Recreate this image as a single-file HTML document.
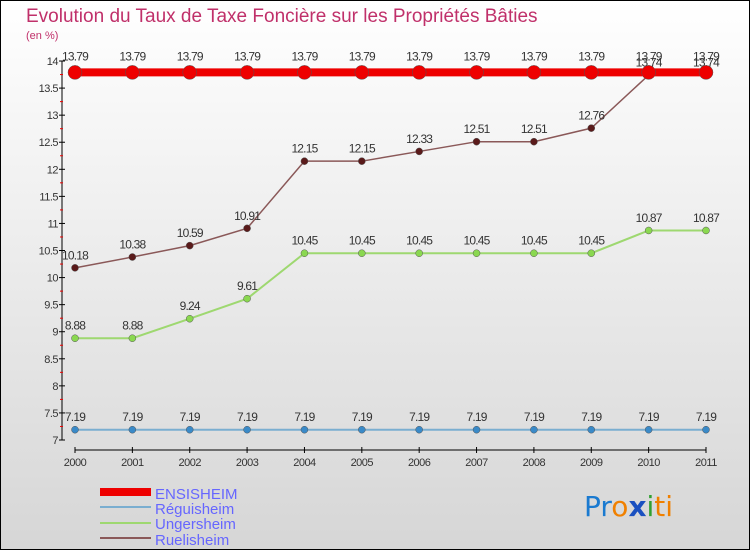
<!DOCTYPE html>
<html><head><meta charset="utf-8"><style>
body{margin:0}
#c{width:750px;height:550px;position:relative;overflow:hidden;font-family:"Liberation Sans",sans-serif}
</style></head><body>
<div id="c">
<svg id="s" width="750" height="550" xmlns="http://www.w3.org/2000/svg">
<defs><linearGradient id="bg" x1="0" y1="0" x2="0" y2="1"><stop offset="0" stop-color="#ffffff"/><stop offset="1" stop-color="#d6d6d6"/></linearGradient></defs>
<rect x="0.5" y="0.5" width="749" height="549" fill="url(#bg)" stroke="#000"/>
<text x="26" y="22" font-size="19" fill="#c0306a">Evolution du Taux de Taxe Foncière sur les Propriétés Bâties</text>
<text x="26" y="39" font-size="11" fill="#c0306a">(en %)</text>
<g id="axes"></g><g id="series"></g>
<g>
<rect x="100" y="488" width="51" height="8" fill="#e00"/>
<text x="155" y="499" font-size="15" fill="#6666ff">ENSISHEIM</text>
<line x1="100" y1="507" x2="151" y2="507" stroke="#7aaed0" stroke-width="2"/>
<text x="155" y="514" font-size="15" fill="#6666ff">Réguisheim</text>
<line x1="100" y1="523" x2="151" y2="523" stroke="#9ed870" stroke-width="2"/>
<text x="155" y="529" font-size="15" fill="#6666ff">Ungersheim</text>
<line x1="100" y1="538" x2="151" y2="538" stroke="#8a5858" stroke-width="2"/>
<text x="155" y="545" font-size="15" fill="#6666ff">Ruelisheim</text>
</g>
<text x="584" y="516" font-size="28" font-family="DejaVu Sans,sans-serif"><tspan fill="#1a7ad0">Pr</tspan><tspan fill="#f08000">o</tspan><tspan fill="#1a50c0" font-weight="bold">x</tspan><tspan fill="#30a030">i</tspan><tspan fill="#f08000">ti</tspan></text>
</svg></div>
<script>
const years=[2000,2001,2002,2003,2004,2005,2006,2007,2008,2009,2010,2011];
const ensisheim=[13.79,13.79,13.79,13.79,13.79,13.79,13.79,13.79,13.79,13.79,13.79,13.79];
const reguisheim=[7.19,7.19,7.19,7.19,7.19,7.19,7.19,7.19,7.19,7.19,7.19,7.19];
const ungersheim=[8.88,8.88,9.24,9.61,10.45,10.45,10.45,10.45,10.45,10.45,10.87,10.87];
const ruelisheim=[10.18,10.38,10.59,10.91,12.15,12.15,12.33,12.51,12.51,12.76,13.74,13.74];
const yTicks=[7,7.5,8,8.5,9,9.5,10,10.5,11,11.5,12,12.5,13,13.5,14];
const NS="http://www.w3.org/2000/svg";
const x=i=>75+i*(631/11);
const y=v=>440-(v-7)*54.14;
function mk(tag,attrs,parent){const e=document.createElementNS(NS,tag);for(const k in attrs)e.setAttribute(k,attrs[k]);parent.appendChild(e);return e;}
const ax=document.getElementById('axes');
let a=mk('line',{x1:62,y1:y(14),x2:62,y2:y(7),stroke:'#000'},ax);


a=mk('line',{x1:75,y1:450,x2:706,y2:450,stroke:'#000'},ax);


yTicks.forEach(v=>{
 mk('line',{x1:59,y1:y(v),x2:65,y2:y(v),stroke:'#000'},ax);
 mk('line',{x1:60,y1:y(v+0.25),x2:63,y2:y(v+0.25),stroke:v<14?'#e00':'none'},ax);
 const t=mk('text',{x:58,y:y(v)+4,'font-size':11,'text-anchor':'end',fill:'#333','letter-spacing':'-0.5'},ax);
 t.textContent=v;
 
 
});
years.forEach((yr,i)=>{
 mk('line',{x1:x(i),y1:447,x2:x(i),y2:453,stroke:'#000'},ax);
 const t=mk('text',{x:x(i),y:466,'font-size':11,'text-anchor':'middle',fill:'#333','letter-spacing':'-0.5'},ax);
 t.textContent=yr;
 
 
});
const sg=document.getElementById('series');
function series(name,vals,color,w,r,dot){
 const g=mk('g',{},sg);
 
 
 mk('polyline',{points:vals.map((v,i)=>x(i)+','+y(v)).join(' '),fill:'none',stroke:color,'stroke-width':w},g);
 vals.forEach((v,i)=>{
  const c=mk('circle',{cx:x(i),cy:y(v),r:r,fill:dot,stroke:'#555','stroke-width':0.5},g);
  
  
  const t=mk('text',{x:x(i),y:y(v)-(r+5),'font-size':12,'text-anchor':'middle',fill:'#333','letter-spacing':'-0.8'},g);
  t.textContent=v;
  
  
 });
}
series('reguisheim',reguisheim,'#7aaed0',2,3.5,'#3a8ac8');
series('ungersheim',ungersheim,'#9ed870',2,3.5,'#8ad850');
series('ruelisheim',ruelisheim,'#8a5858',1.5,3.5,'#5a1a1a');
series('ensisheim',ensisheim,'#e00',8,7,'#e00');
</script>
</body></html>
